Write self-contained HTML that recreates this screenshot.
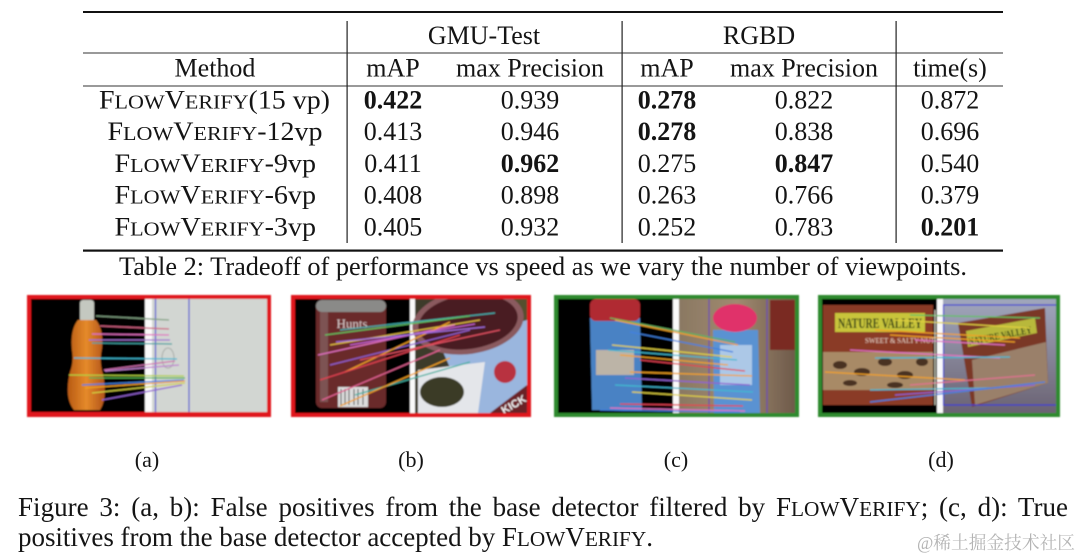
<!DOCTYPE html>
<html><head><meta charset="utf-8"><style>
html,body{margin:0;padding:0;background:#fff;}
svg{display:block;}
text{font-family:"Liberation Serif","Noto Serif CJK SC",serif;fill:#141414;}
</style></head><body>
<svg width="1080" height="556" viewBox="0 0 1080 556" xmlns="http://www.w3.org/2000/svg">
<defs>
<filter id="bl" x="-5%" y="-5%" width="110%" height="110%"><feGaussianBlur stdDeviation="0.7"/></filter>
<linearGradient id="org" x1="0" x2="1" y1="0" y2="0"><stop offset="0" stop-color="#b85a14"/><stop offset="0.5" stop-color="#e58a2a"/><stop offset="1" stop-color="#b0521a"/></linearGradient>
<linearGradient id="cbg" x1="0" x2="1" y1="0" y2="0"><stop offset="0" stop-color="#8a7862"/><stop offset="0.5" stop-color="#a08a70"/><stop offset="1" stop-color="#6e5a4a"/></linearGradient>
<linearGradient id="dbg" x1="0" x2="0" y1="0" y2="1"><stop offset="0" stop-color="#a0a6bc"/><stop offset="1" stop-color="#6a6272"/></linearGradient>
<clipPath id="ca"><rect x="31" y="299" width="236" height="113"/></clipPath>
<clipPath id="cb"><rect x="295" y="299" width="232" height="114"/></clipPath>
<clipPath id="cc"><rect x="558" y="299" width="237" height="114"/></clipPath>
<clipPath id="cd"><rect x="822" y="299" width="234" height="114"/></clipPath>
</defs>

<!-- TABLE -->
<rect x="83" y="11" width="920" height="2" fill="#111"/>
<rect x="83" y="52.5" width="920" height="1" fill="#333"/>
<rect x="83" y="85.5" width="920" height="1" fill="#333"/>
<rect x="83" y="249.5" width="920" height="2.2" fill="#111"/>
<rect x="346.5" y="21" width="1.2" height="222" fill="#222"/>
<rect x="621.5" y="21" width="1.2" height="222" fill="#222"/>
<rect x="895.5" y="21" width="1.2" height="222" fill="#222"/>

<g font-size="26" text-anchor="middle">
<text x="484" y="44">GMU-Test</text>
<text x="759" y="44">RGBD</text>
<text x="215" y="76.3">Method</text>
<text x="393" y="76.3">mAP</text>
<text x="530" y="76.3">max Precision</text>
<text x="667" y="76.3">mAP</text>
<text x="804" y="76.3">max Precision</text>
<text x="950" y="76.3">time(s)</text>
</g>

<g font-size="26">
<text x="99" y="108.5" textLength="231" lengthAdjust="spacingAndGlyphs">F<tspan font-size="20.5">LOW</tspan>V<tspan font-size="20.5">ERIFY</tspan>(15 vp)</text>
<text x="107.5" y="140.2" textLength="215" lengthAdjust="spacingAndGlyphs">F<tspan font-size="20.5">LOW</tspan>V<tspan font-size="20.5">ERIFY</tspan>-12vp</text>
<text x="114.5" y="171.9" textLength="201.5" lengthAdjust="spacingAndGlyphs">F<tspan font-size="20.5">LOW</tspan>V<tspan font-size="20.5">ERIFY</tspan>-9vp</text>
<text x="114.5" y="203.6" textLength="201.5" lengthAdjust="spacingAndGlyphs">F<tspan font-size="20.5">LOW</tspan>V<tspan font-size="20.5">ERIFY</tspan>-6vp</text>
<text x="114.5" y="235.3" textLength="201.5" lengthAdjust="spacingAndGlyphs">F<tspan font-size="20.5">LOW</tspan>V<tspan font-size="20.5">ERIFY</tspan>-3vp</text>
</g>

<g font-size="26" text-anchor="middle">
<text x="393" y="108.5" font-weight="bold">0.422</text>
<text x="530" y="108.5">0.939</text>
<text x="667" y="108.5" font-weight="bold">0.278</text>
<text x="804" y="108.5">0.822</text>
<text x="950" y="108.5">0.872</text>

<text x="393" y="140.2">0.413</text>
<text x="530" y="140.2">0.946</text>
<text x="667" y="140.2" font-weight="bold">0.278</text>
<text x="804" y="140.2">0.838</text>
<text x="950" y="140.2">0.696</text>

<text x="393" y="171.9">0.411</text>
<text x="530" y="171.9" font-weight="bold">0.962</text>
<text x="667" y="171.9">0.275</text>
<text x="804" y="171.9" font-weight="bold">0.847</text>
<text x="950" y="171.9">0.540</text>

<text x="393" y="203.6">0.408</text>
<text x="530" y="203.6">0.898</text>
<text x="667" y="203.6">0.263</text>
<text x="804" y="203.6">0.766</text>
<text x="950" y="203.6">0.379</text>

<text x="393" y="235.3">0.405</text>
<text x="530" y="235.3">0.932</text>
<text x="667" y="235.3">0.252</text>
<text x="804" y="235.3">0.783</text>
<text x="950" y="235.3" font-weight="bold">0.201</text>
</g>

<text x="119" y="275" font-size="26" textLength="848" lengthAdjust="spacingAndGlyphs">Table 2: Tradeoff of performance vs speed as we vary the number of viewpoints.</text>

<!-- PANEL A -->
<g filter="url(#bl)">
<rect x="27" y="295" width="244" height="122" fill="#e0161c"/>
<g clip-path="url(#ca)">
<rect x="31" y="299" width="114" height="113" fill="#030303"/>
<rect x="145" y="299" width="7" height="113" fill="#fafafa"/>
<rect x="152" y="299" width="115" height="113" fill="#d2d6d2"/>
<line x1="155.5" y1="299" x2="155.5" y2="412" stroke="#4a4ad0" stroke-width="1.2"/>
<line x1="189" y1="299" x2="189" y2="412" stroke="#4a4ad0" stroke-width="1.2"/>
<ellipse cx="168" cy="358" rx="6" ry="10" fill="none" stroke="#a8aca8" stroke-width="1"/>
<rect x="80" y="300" width="14" height="22" rx="3" fill="#c4c8c0"/>
<path d="M78,320 Q70,330 72,350 Q74,362 70,372 Q64,398 74,410 L100,410 Q108,398 103,374 Q99,362 102,348 Q104,330 96,320 Z" fill="url(#org)"/>
<g stroke-width="1.3" fill="none">
<line x1="96" y1="316" x2="169" y2="320" stroke="#7fa080"/>
<line x1="100" y1="326" x2="169" y2="329" stroke="#d06080"/>
<line x1="92" y1="334" x2="169" y2="335" stroke="#e070c0"/>
<line x1="89" y1="340" x2="170" y2="340" stroke="#a070d0"/>
<line x1="92" y1="343" x2="172" y2="344" stroke="#40a0a0"/>
<line x1="74" y1="358" x2="177" y2="359" stroke="#40b8d0"/>
<line x1="104" y1="370" x2="175" y2="361" stroke="#d070b0"/>
<line x1="105" y1="371" x2="179" y2="365" stroke="#c080d0"/>
<line x1="69" y1="375" x2="184" y2="376" stroke="#b0d040"/>
<line x1="89" y1="378" x2="185" y2="378" stroke="#50b050"/>
<line x1="82" y1="385" x2="184" y2="380" stroke="#4080e0"/>
<line x1="85" y1="388" x2="185" y2="381" stroke="#f0a020"/>
<line x1="92" y1="393" x2="185" y2="383" stroke="#d0d040"/>
<line x1="102" y1="400" x2="182" y2="385" stroke="#9060d0"/>
</g>
</g>
</g>

<!-- PANEL B -->
<g filter="url(#bl)">
<rect x="291" y="295" width="240" height="122" fill="#e0161c"/>
<g clip-path="url(#cb)">
<rect x="295" y="299" width="115" height="114" fill="#030303"/>
<rect x="410" y="299" width="5" height="114" fill="#fafafa"/>
<rect x="415" y="299" width="112" height="114" fill="#3e3a2a"/>
<rect x="500" y="299" width="27" height="40" fill="#55502f"/>
<path d="M440,345 L527,320 L527,413 L470,413 Z" fill="#9ab6de"/>
<ellipse cx="505" cy="372" rx="11" ry="11" fill="#b83040"/>
<ellipse cx="468" cy="322" rx="56" ry="32" transform="rotate(-8 468 322)" fill="#8a5a5e"/>
<ellipse cx="468" cy="322" rx="50" ry="27" transform="rotate(-8 468 322)" fill="#4a1a22"/>
<path d="M490,413 L527,385 L527,413 Z" fill="#6a2028"/>
<text x="500" y="410" font-size="11" font-weight="bold" transform="rotate(-30 510 405)" style="fill:#f0f0f0;font-family:'Liberation Sans',sans-serif">KICK</text>
<path d="M418,370 L485,362 L478,413 L418,413 Z" fill="#e4e6ea"/>
<ellipse cx="442" cy="392" rx="22" ry="15" fill="#3a3a26"/>
<rect x="316" y="300" width="70" height="108" rx="6" fill="#6a2a2a"/>
<rect x="316" y="300" width="70" height="12" rx="6" fill="#8a8a88"/>
<rect x="320" y="312" width="8" height="90" fill="#8a7070" opacity="0.6"/>
<rect x="338" y="387" width="30" height="20" fill="#dcdcdc"/>
<g stroke="#333" stroke-width="1"><line x1="341" y1="389" x2="341" y2="405"/><line x1="345" y1="389" x2="345" y2="405"/><line x1="349" y1="389" x2="349" y2="405"/><line x1="354" y1="389" x2="354" y2="405"/><line x1="358" y1="389" x2="358" y2="405"/><line x1="363" y1="389" x2="363" y2="405"/></g>
<text x="352" y="328" font-size="13" text-anchor="middle" style="fill:#d8c8c8">Hunts</text>
<g stroke-width="1.3" fill="none">
<line x1="340" y1="330" x2="495" y2="313" stroke="#40b0b0"/>
<line x1="325" y1="335" x2="470" y2="316" stroke="#60c060"/>
<line x1="330" y1="345" x2="480" y2="320" stroke="#e0c040"/>
<line x1="318" y1="355" x2="455" y2="325" stroke="#e070c0"/>
<line x1="330" y1="365" x2="470" y2="330" stroke="#9060d0"/>
<line x1="345" y1="372" x2="450" y2="322" stroke="#f0a020"/>
<line x1="320" y1="380" x2="460" y2="335" stroke="#e04050"/>
<line x1="355" y1="395" x2="470" y2="362" stroke="#40b0a0"/>
<line x1="340" y1="406" x2="450" y2="358" stroke="#f0a020"/>
<line x1="360" y1="360" x2="500" y2="330" stroke="#e05060"/>
<line x1="350" y1="345" x2="475" y2="324" stroke="#c060d0"/>
<line x1="322" y1="400" x2="440" y2="350" stroke="#e06090"/>
<line x1="336" y1="342" x2="485" y2="327" stroke="#a070e0"/>
</g>
</g>
</g>

<!-- PANEL C -->
<g filter="url(#bl)">
<rect x="554" y="295" width="245" height="122" fill="#2f8a2f"/>
<g clip-path="url(#cc)">
<rect x="558" y="299" width="115" height="114" fill="#030303"/>
<rect x="673" y="299" width="6" height="114" fill="#fafafa"/>
<rect x="679" y="299" width="116" height="114" fill="url(#cbg)"/>
<rect x="770" y="300" width="25" height="50" fill="#7a2a22"/>
<path d="M590,318 L640,318 L642,410 L592,410 Z" fill="#4a82c4"/>
<rect x="596" y="350" width="38" height="25" fill="#d8c0a0" opacity="0.8"/>
<rect x="590" y="299" width="50" height="22" rx="6" fill="#b02a32"/>
<path d="M713,330 L758,330 L760,413 L714,413 Z" fill="#5a92d2"/>
<rect x="720" y="345" width="32" height="40" fill="#cfe0f0" opacity="0.7"/>
<ellipse cx="735" cy="318" rx="22" ry="14" fill="#e0306a"/>
<line x1="709" y1="299" x2="709" y2="413" stroke="#6a4ab0" stroke-width="1.2"/>
<line x1="767" y1="299" x2="767" y2="413" stroke="#6a4ab0" stroke-width="1.2"/>
<g stroke-width="1.3" fill="none">
<line x1="610" y1="318" x2="735" y2="342" stroke="#60b060"/>
<line x1="615" y1="320" x2="738" y2="345" stroke="#f0a020"/>
<line x1="630" y1="332" x2="733" y2="352" stroke="#4080e0"/>
<line x1="612" y1="345" x2="732" y2="357" stroke="#e0d040"/>
<line x1="608" y1="350" x2="737" y2="360" stroke="#40b8d0"/>
<line x1="620" y1="355" x2="728" y2="365" stroke="#f0a020"/>
<line x1="640" y1="360" x2="745" y2="371" stroke="#e04050"/>
<line x1="630" y1="372" x2="752" y2="376" stroke="#f0a020"/>
<line x1="625" y1="378" x2="750" y2="385" stroke="#9060d0"/>
<line x1="615" y1="385" x2="753" y2="392" stroke="#40b8d0"/>
<line x1="632" y1="392" x2="752" y2="400" stroke="#e0d040"/>
<line x1="620" y1="404" x2="743" y2="406" stroke="#e04050"/>
<line x1="610" y1="408" x2="745" y2="411" stroke="#e070c0"/>
<line x1="600" y1="410" x2="740" y2="412" stroke="#4080e0"/>
</g>
</g>
</g>

<!-- PANEL D -->
<g filter="url(#bl)">
<rect x="818" y="295" width="242" height="122" fill="#2f8a2f"/>
<g clip-path="url(#cd)">
<rect x="822" y="299" width="115" height="114" fill="#030303"/>
<rect x="937" y="299" width="6" height="114" fill="#fafafa"/>
<rect x="943" y="299" width="113" height="114" fill="url(#dbg)"/>
<rect x="823" y="305" width="110" height="100" fill="#8a3a28"/>
<rect x="823" y="352" width="110" height="38" fill="#a88a66"/>
<g fill="#4a3020"><ellipse cx="840" cy="365" rx="7" ry="4"/><ellipse cx="862" cy="372" rx="8" ry="4"/><ellipse cx="885" cy="362" rx="7" ry="4"/><ellipse cx="905" cy="375" rx="8" ry="4"/><ellipse cx="922" cy="362" rx="6" ry="4"/><ellipse cx="850" cy="383" rx="7" ry="3"/><ellipse cx="895" cy="385" rx="8" ry="3"/></g>
<rect x="835" y="313" width="90" height="19" fill="#c8c43a"/>
<text x="880" y="328" font-size="15" text-anchor="middle" textLength="84" lengthAdjust="spacingAndGlyphs" style="fill:#2a3a14;font-weight:bold">NATURE VALLEY</text>
<text x="865" y="343" font-size="7" style="fill:#e8d0c0">SWEET &amp; SALTY NUT</text>
<polygon points="958,323 1045,308 1048,383 972,407" fill="#7a3828"/>
<polygon points="972,360 1046,342 1048,383 975,405" fill="#9a806a"/>
<polygon points="966,331 1035,318 1037,333 968,347" fill="#b8b83a"/>
<text x="1000" y="339" font-size="10" text-anchor="middle" textLength="64" lengthAdjust="spacingAndGlyphs" transform="rotate(-11 1000 336)" style="fill:#2a3a14;font-weight:bold">NATURE VALLEY</text>
<rect x="943.5" y="305" width="114" height="100" fill="none" stroke="#3a3ad0" stroke-width="1.2"/>
<g stroke-width="1.3" fill="none">
<line x1="910" y1="315" x2="1040" y2="318" stroke="#60c060"/>
<line x1="895" y1="320" x2="1030" y2="328" stroke="#e0d040"/>
<line x1="875" y1="330" x2="1020" y2="338" stroke="#f0a020"/>
<line x1="890" y1="335" x2="1015" y2="342" stroke="#f0a020"/>
<line x1="915" y1="340" x2="1005" y2="345" stroke="#e070c0"/>
<line x1="850" y1="350" x2="1000" y2="358" stroke="#e070c0"/>
<line x1="875" y1="358" x2="1010" y2="357" stroke="#40b8d0"/>
<line x1="825" y1="372" x2="965" y2="380" stroke="#f0a020"/>
<line x1="870" y1="390" x2="990" y2="388" stroke="#40b8d0"/>
<line x1="895" y1="395" x2="1035" y2="385" stroke="#9060d0"/>
<line x1="870" y1="402" x2="1045" y2="382" stroke="#4080e0"/>
<line x1="910" y1="385" x2="1035" y2="375" stroke="#e07090"/>
<line x1="935" y1="310" x2="935" y2="405" stroke="#d0d0c0" stroke-width="1"/>
</g>
</g>
</g>

<!-- sub labels -->
<g font-size="22" text-anchor="middle">
<text x="147" y="467">(a)</text>
<text x="411" y="467">(b)</text>
<text x="676" y="467">(c)</text>
<text x="941" y="467">(d)</text>
</g>

<!-- caption -->
<text x="18" y="516" font-size="27" textLength="1050" lengthAdjust="spacing" style="word-spacing:4px">Figure 3: (a, b): False positives from the base detector filtered by F<tspan font-size="21.3">LOW</tspan>V<tspan font-size="21.3">ERIFY</tspan>; (c, d): True</text>
<text x="18" y="546" font-size="27" textLength="635" lengthAdjust="spacing">positives from the base detector accepted by F<tspan font-size="21.3">LOW</tspan>V<tspan font-size="21.3">ERIFY</tspan>.</text>

<text x="917" y="549" font-size="18" textLength="158" lengthAdjust="spacingAndGlyphs" style="fill:#b4b4b4;font-family:'Liberation Serif','Noto Serif CJK SC',serif">@稀土掘金技术社区</text>
</svg>
</body></html>
